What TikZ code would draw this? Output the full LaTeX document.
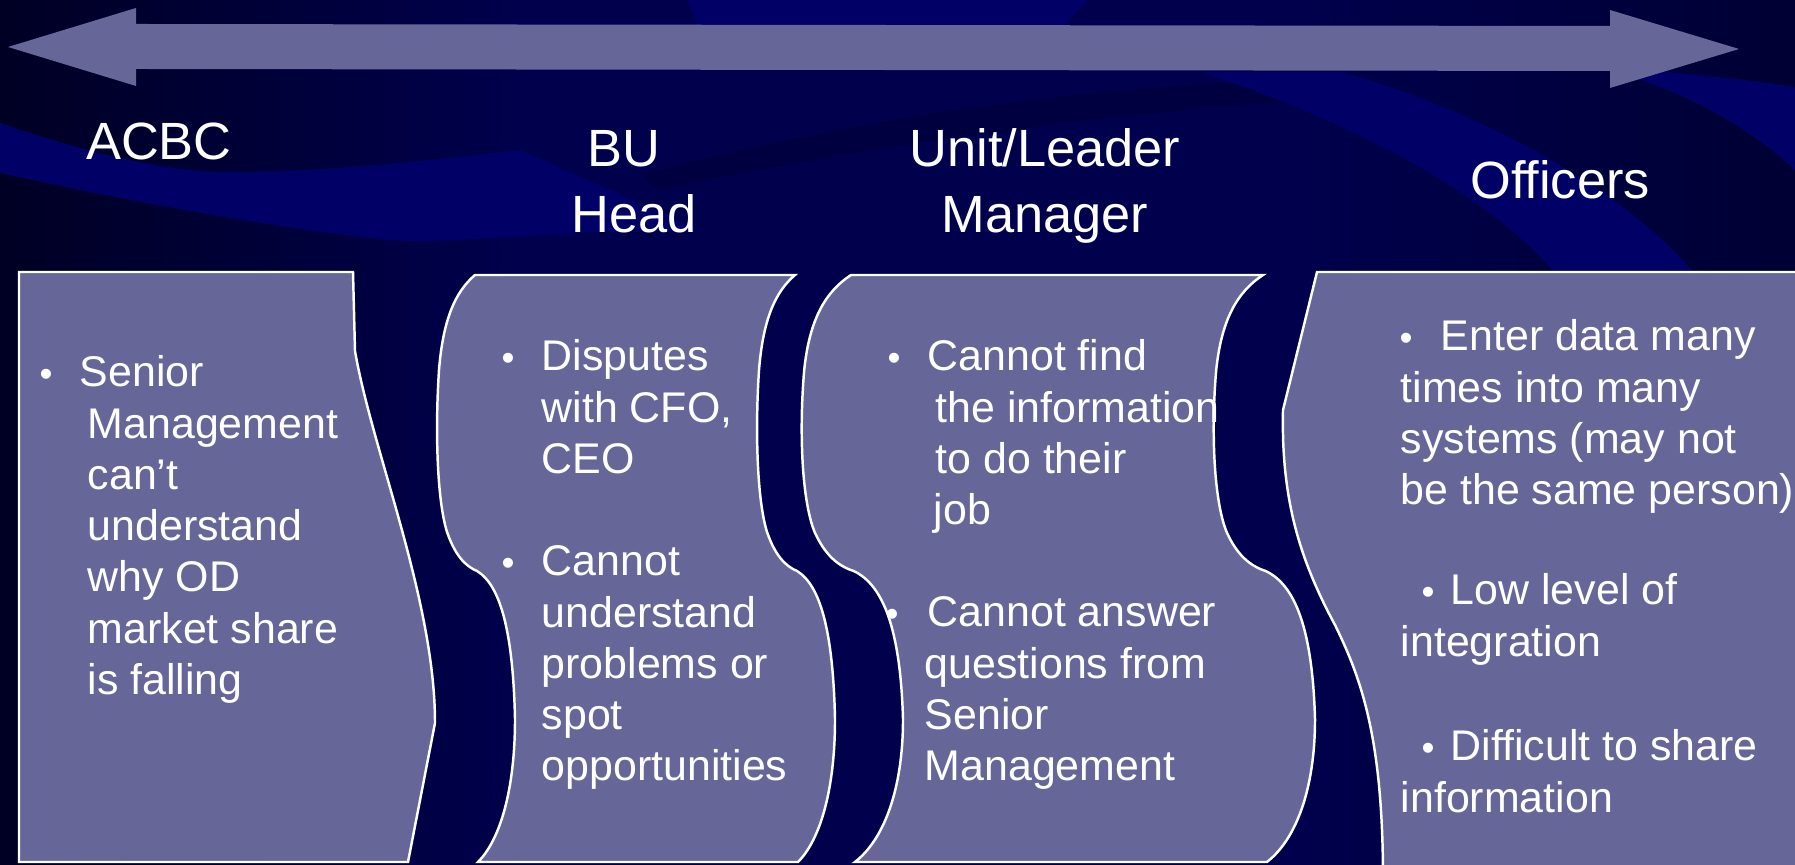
\documentclass[tikz,border=0pt]{standalone}
\usepackage{fontspec}
\setmainfont{Liberation Sans}

\definecolor{panelblue}{HTML}{666699}
\definecolor{bgbase}{HTML}{00004C}
\definecolor{bgleft}{HTML}{000024}
\definecolor{bgright}{HTML}{000034}
\definecolor{swoosh}{HTML}{000066}
\definecolor{shadow}{HTML}{000036}

% wavy side of a panel, top to bottom (#1 = x at the top, #2 = depth)
\newcommand\wavedown[2]{%
  .. controls ({#1-20*#2},292) and ({#1-32*#2},320) .. ({#1-36*#2},370)
  .. controls ({#1-40*#2},430) and ({#1-38*#2},500) .. ({#1-28*#2},532)
  .. controls ({#1-20*#2},555) and ({#1-10*#2},566) .. ({#1+2*#2},571)
  .. controls ({#1+25*#2},585) and ({#1+38*#2},630) .. ({#1+40*#2},719)
  .. controls ({#1+40*#2},790) and ({#1+25*#2},840) .. ({#1+3*#2},862)}
% the same side, bottom to top
\newcommand\waveup[2]{%
  -- ({#1+3*#2},862)
  .. controls ({#1+25*#2},840) and ({#1+40*#2},790) .. ({#1+40*#2},719)
  .. controls ({#1+38*#2},630) and ({#1+25*#2},585) .. ({#1+2*#2},571)
  .. controls ({#1-10*#2},566) and ({#1-20*#2},555) .. ({#1-28*#2},532)
  .. controls ({#1-38*#2},500) and ({#1-40*#2},430) .. ({#1-36*#2},370)
  .. controls ({#1-32*#2},320) and ({#1-20*#2},292) .. ({#1},275)}

\begin{document}
\begin{tikzpicture}[x=0.01cm, y=-0.01cm,
  panel/.style={fill=panelblue, draw=white, line width=0.7pt},
  head/.style={text=white, inner sep=0pt, anchor=base, align=center,
               font=\fontsize{14.9}{18.8}\selectfont},
  item/.style={text=white, inner sep=0pt, anchor=base west, align=left,
               font=\fontsize{12.2}{14.57}\selectfont},
  dot/.style ={text=white, inner sep=0pt, anchor=base,
               font=\fontsize{10.5}{12}\selectfont}]
\useasboundingbox (0,0) rectangle (1795,865);
\clip (0,0) rectangle (1795,865);

% background with swooshes
\fill[bgbase] (0,0) rectangle (1795,865);
\shade[left color=bgleft, right color=bgbase] (0,0) rectangle (520,865);
\shade[left color=bgbase, right color=bgright] (1300,0) rectangle (1795,865);
\fill[swoosh] (0,123) .. controls (80,150) and (160,172) .. (229,172)
  .. controls (330,172) and (430,160) .. (520,150) -- (700,230)
  .. controls (550,230) and (450,245) .. (389,240)
  .. controls (250,225) and (100,195) .. (0,173) -- cycle;
\fill[swoosh] (687,0) -- (1088,0) -- (1060,30) -- (700,30) -- cycle;
\fill[shadow, opacity=0.5] (640,175) .. controls (850,120) and (1050,90) .. (1280,80)
  -- (1300,100) .. controls (1050,120) and (850,150) .. (660,190) -- cycle;
\fill[swoosh] (1200,72) .. controls (1350,120) and (1500,200) .. (1560,280)
  -- (1700,280) .. controls (1620,180) and (1450,100) .. (1340,72) -- cycle;
\fill[swoosh] (1600,67) .. controls (1680,72) and (1750,80) .. (1795,87)
  -- (1795,170) .. controls (1740,120) and (1680,90) .. (1600,67) -- cycle;

% double arrow across the top
\fill[panelblue] (8,47) -- (136,8) -- (136,24) -- (1610,26) -- (1610,10)
  -- (1739,49) -- (1610,88) -- (1610,71) -- (136,69) -- (136,86) -- cycle;

% column panels
\draw[panel] (19,272) -- (353,272) -- (355,351)
  .. controls (372,450) and (435,600) .. (435,723) -- (408,862)
  -- (19,862) -- cycle;
\draw[panel] (475,275) \wavedown{475}{1} \waveup{795}{1} -- cycle;
\draw[panel] (851,275) \wavedown{851}{1.3} \waveup{1263}{1.3} -- cycle;
\draw[panel] (1810,272) -- (1317,272) -- (1283,410)
  .. controls (1281,500) and (1300,560) .. (1335,625)
  .. controls (1362,680) and (1383,740) .. (1383,880) -- (1810,880) -- cycle;

% column headings (base = last line)
\node[head] (acbc) at (159,160) {ACBC};
\node[head] (bu) at (634,233) {BU\hspace*{2mm}\\Head};
\node[head] (unit) at (1045,233) {Unit/Leader\\Manager};
\node[head] (officers) at (1560,199) {Officers};

% ACBC
\node[dot] (d1) at (46,387) {\textbullet};
\node[item] (t1) at (87,694.3) {\hspace*{-0.8mm}Senior\\Management\\can’t\\understand\\why OD\\market share\\is falling};

% BU head
\node[dot] (d2) at (508,371) {\textbullet};
\node[item] (t2) at (541,473.4) {Disputes\\with CFO,\\CEO};
\node[dot] (d3) at (508,576) {\textbullet};
\node[item] (t3) at (541,780.8) {Cannot\\understand\\problems or\\spot\\opportunities};

% unit leader / manager
\node[dot] (d4) at (894,371) {\textbullet};
\node[item] (t4) at (935,524.6) {\hspace*{-0.8mm}Cannot find\\the information\\to do their\\\hspace*{-0.2mm}job};
\node[dot] (d5) at (892,627) {\textbullet};
\node[item] (t5) at (924,780.6) {\hspace*{0.3mm}Cannot answer\\questions from\\Senior\\Management};

% officers
\node[dot] (d6) at (1406,351) {\textbullet};
\node[item] (t6) at (1400,504.6) {\hspace*{4mm}Enter data many\\times into many\\systems (may not\\be the same person)};
\node[dot] (d7) at (1428,605) {\textbullet};
\node[item] (t7) at (1400,656.2) {\hspace*{5mm}Low level of\\integration};
\node[dot] (d8) at (1428,761) {\textbullet};
\node[item] (t8) at (1400,812.2) {\hspace*{5mm}Difficult to share\\information};
\end{tikzpicture}
\end{document}
